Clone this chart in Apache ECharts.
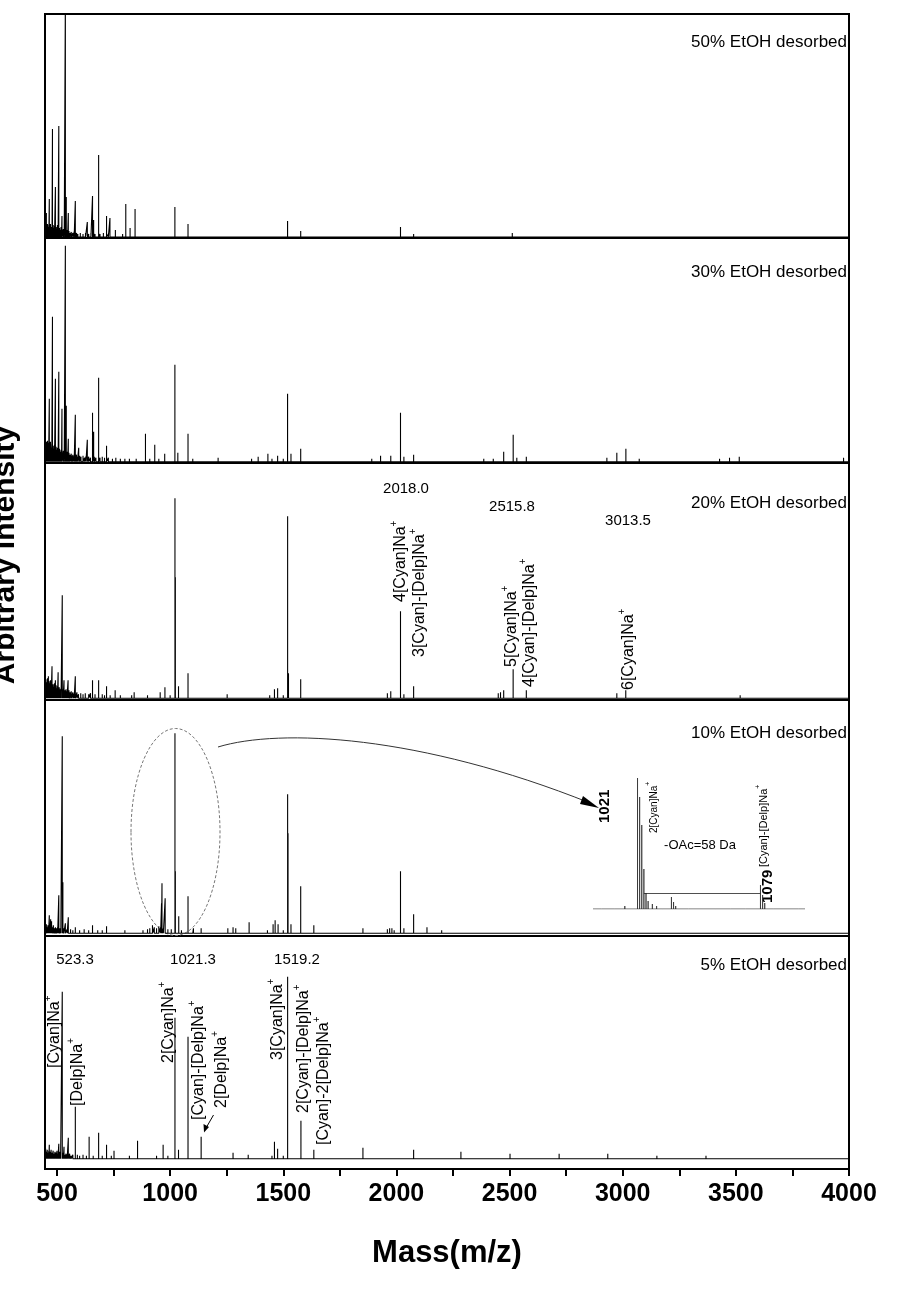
<!DOCTYPE html>
<html><head><meta charset="utf-8">
<script src="https://cdn.jsdelivr.net/npm/echarts@6/dist/echarts.min.js"></script>
<style>html,body{margin:0;padding:0;background:#fff}#c{width:913px;height:1311px}</style>
</head><body><div id="c"></div>
<script>
// ---------------- data ----------------
const xTickValues = [500,750,1000,1250,1500,1750,2000,2250,2500,2750,3000,3250,3500,3750,4000];
const xLabelValues = [500,1000,1500,2000,2500,3000,3500,4000];
const panelNames = ['50% EtOH desorbed','30% EtOH desorbed','20% EtOH desorbed','10% EtOH desorbed','5% EtOH desorbed'];

// [m/z, intensity]
const peaks50 = [[453,24],[466,38],[480,108],[493,50],[508,111],[522,21],[537,240],[541,40],[550,24],[581,36],[634,15],[657,41],[662,17],[684,82],[719,21],[734,19],[758,7],[804,33],[823,9],[845,28],[1021,30],[1079,13],[1519,16],[1577,6],[2018,10],[2076,3],[2512,4],[3013,2]];
const noise50 = [[447,12],[449,9],[451,14],[455,11],[458,13],[461,10],[464,12],[469,9],[471,13],[474,10],[478,8],[483,12],[486,9],[489,11],[496,10],[499,8],[502,12],[505,7],[511,9],[514,7],[518,10],[520,6],[528,8],[532,6],[544,7],[547,5],[553,6],[557,4],[563,5],[570,4],[576,5],[586,4],[592,3],[603,4],[615,3],[626,4],[640,3],[650,4],[668,3],[690,3],[705,4],[727,3],[770,2],[790,3],[830,2],[870,2],[900,2],[940,2],[980,2],[1060,2],[1120,2],[1200,2],[1280,1],[1350,2],[1420,1],[1480,2],[1560,1],[1640,2],[1720,1],[1800,2],[1880,1],[1960,2],[2100,1],[2200,2],[2300,1],[2420,2],[2600,1],[2700,2],[2850,1],[2950,2],[3100,1],[3250,1],[3400,1],[3600,1],[3800,1],[3950,1]];

const peaks30 = [[453,20],[466,63],[480,145],[493,83],[508,90],[522,53],[537,216],[541,56],[550,23],[581,47],[596,14],[634,22],[657,49],[662,30],[684,84],[719,16],[891,28],[932,17],[976,8],[1021,97],[1034,9],[1079,28],[1212,4],[1389,5],[1432,8],[1475,6],[1519,68],[1534,8],[1577,13],[1891,3],[1930,6],[1975,6],[2018,49],[2033,5],[2076,7],[2386,3],[2428,3],[2474,10],[2516,27],[2532,4],[2574,5],[2930,4],[2974,9],[3014,13],[3073,3],[3428,3],[3472,4],[3515,5],[3976,4]];
const noise30 = [[447,22],[449,16],[451,20],[455,18],[458,21],[461,15],[463,19],[469,17],[471,20],[474,14],[477,18],[483,16],[486,13],[489,17],[496,15],[499,12],[502,14],[505,11],[511,13],[514,10],[518,12],[520,9],[528,11],[532,9],[544,10],[547,8],[553,9],[557,7],[563,8],[567,6],[570,7],[576,6],[586,7],[590,5],[600,6],[606,5],[615,6],[622,4],[628,5],[640,5],[648,4],[665,5],[672,4],[690,4],[700,5],[710,4],[727,4],[745,3],[760,4],[780,3],[800,3],[820,3],[850,3],[870,2],[910,3],[950,3],[990,2],[1050,2],[1100,3],[1150,2],[1180,2],[1240,2],[1280,2],[1320,2],[1360,3],[1410,2],[1450,3],[1500,3],[1550,2],[1600,2],[1650,2],[1700,1],[1760,2],[1820,1],[1860,2],[1950,2],[2060,2],[2120,2],[2200,1],[2280,2],[2340,1],[2440,2],[2600,2],[2700,1],[2800,2],[2880,1],[3040,2],[3120,1],[3200,2],[3300,1],[3380,2],[3560,1],[3650,2],[3750,1],[3850,2],[3920,2]];

const peaks20 = [[462,22],[478,32],[493,18],[505,26],[523.3,103],[531,18],[549,18],[581,22],[657,18],[684,18],[719,12],[757,8],[841,6],[956,6],[977,11],[1021.3,200],[1023,121],[1037,12],[1079,25],[1252,4],[1461,9],[1475,10],[1519.2,182],[1523,25],[1577,19],[1960,5],[1975,7],[2018.0,87],[2033,4],[2076,12],[2450,5],[2460,6],[2474,8],[2515.8,29],[2574,8],[2974,5],[3013.5,8],[3519,3]];
const noise20 = [[447,18],[449,14],[451,19],[455,16],[458,20],[461,13],[465,17],[469,15],[471,18],[474,12],[483,14],[486,11],[489,15],[496,13],[499,10],[502,12],[510,11],[514,9],[518,10],[527,9],[535,8],[540,9],[544,7],[553,8],[557,6],[563,7],[570,6],[576,5],[588,6],[595,4],[605,5],[615,4],[625,5],[640,4],[648,5],[668,4],[700,4],[710,3],[735,3],[780,3],[800,2],[830,3],[870,2],[900,3],[930,2],[1000,3],[1060,2],[1120,2],[1180,2],[1300,2],[1350,2],[1400,2],[1440,3],[1500,3],[1600,2],[1700,2],[1800,2],[1900,2],[2000,2],[2150,2],[2250,1],[2350,2],[2420,2],[2650,2],[2800,1],[2900,2],[3100,2],[3250,1],[3400,2],[3600,1],[3700,2],[3850,1],[3950,2]];

const peaks10 = [[466,18],[472,14],[476,12],[508,38],[523.3,197],[526,51],[537,10],[550,16],[581,6],[657,8],[719,7],[922,8],[962,30],[964,50],[978,35],[1021.3,200],[1023,62],[1038,17],[1079,37],[1103,5],[1137,5],[1255,5],[1278,6],[1290,5],[1349,11],[1455,9],[1464,13],[1477,9],[1519.2,139],[1521,100],[1534,9],[1577,47],[1635,8],[1852,5],[1960,4],[1970,5],[1980,5],[2018,62],[2033,5],[2076,19],[2135,6],[2200,3]];
const noise10 = [[447,10],[450,7],[453,9],[457,6],[460,8],[463,5],[469,7],[479,6],[484,8],[488,5],[493,6],[498,5],[503,6],[513,5],[517,4],[530,5],[545,4],[560,4],[570,3],[600,3],[620,4],[640,3],[680,3],[700,3],[750,2],[800,3],[850,2],[880,3],[900,4],[910,5],[930,6],[940,5],[950,7],[958,6],[970,5],[990,4],[1005,4],[1050,3],[1100,2],[1180,2],[1220,2],[1320,2],[1400,2],[1430,3],[1500,3],[1560,2],[1700,2],[1800,2],[1900,2],[1990,3],[2100,2],[2300,2],[2500,2],[2700,2],[2900,1],[3100,2],[3300,1],[3500,2],[3700,1],[3900,2]];

const peaks5 = [[466,14],[508,15],[523.3,167],[531,12],[550,21],[581,52],[642,22],[684,26],[719,14],[752,8],[856,18],[969,14],[1021.3,141],[1037,9],[1079,122],[1137,22],[1278,6],[1345,4],[1461,17],[1475,10],[1519.2,182],[1578,38],[1635,9],[1852,11],[2076,9],[2285,7],[2502,5],[2719,5],[2934,5],[3151,3],[3368,3],[3585,2]];
const noise5 = [[447,8],[450,10],[453,7],[457,9],[460,6],[464,8],[470,7],[474,9],[478,6],[483,8],[487,5],[491,7],[496,6],[500,8],[504,5],[512,7],[516,5],[528,6],[535,4],[540,5],[545,4],[556,5],[562,3],[570,4],[590,4],[600,3],[615,4],[630,3],[660,3],[700,3],[740,3],[780,2],[820,3],[900,2],[940,3],[990,3],[1050,2],[1100,2],[1200,2],[1300,2],[1400,2],[1450,3],[1500,3],[1700,2],[1900,2],[2000,2],[2200,1],[2400,2],[2600,1],[2800,2],[3000,1],[3250,2],[3450,1],[3700,1],[3900,1]];

const insetPeaks = [[1004,2],[1010,2],[1015,3],[1021,131],[1022,112],[1023,84],[1024,40],[1025,16],[1026,8],[1028,5],[1030,3],[1033,2],[1037,12],[1038,7],[1039,3],[1045,2],[1050,2],[1058,2],[1065,2],[1072,2],[1079,24],[1080,14],[1081,6],[1085,2],[1092,2],[1097,2]];

const peakValueLabels = [['2018.0',2],['2515.8',2],['3013.5',2],['523.3',4],['1021.3',4],['1519.2',4]];
const ionLabels = ['[Cyan]Na','[Delp]Na','2[Cyan]Na','[Cyan]-[Delp]Na','2[Delp]Na','3[Cyan]Na','2[Cyan]-[Delp]Na','[Cyan]-2[Delp]Na','4[Cyan]Na','3[Cyan]-[Delp]Na','5[Cyan]Na','4[Cyan]-[Delp]Na','6[Cyan]Na'];

// ---------------- build ----------------
const XMIN = 447, XMAX = 4000;
function stick(peaks, noise, x0, x1) {
  const all = peaks.concat(noise).sort((a, b) => a[0] - b[0]);
  const d = [[x0, 0]];
  all.forEach(p => { d.push([p[0], 0], [p[0], p[1]], [p[0], 0]); });
  d.push([x1, 0]);
  return d;
}
const spectra = [stick(peaks50, noise50, XMIN, XMAX), stick(peaks30, noise30, XMIN, XMAX), stick(peaks20, noise20, XMIN, XMAX), stick(peaks10, noise10, XMIN, XMAX), stick(peaks5, noise5, XMIN, XMAX)];

const gTop = [14, 238, 463, 700, 936];
const gH = [224, 225, 237, 236, 233];
const yMin = [-1, -1.3, -1.7, -2.7, -10.3];
const yMax = [223, 223.7, 235.3, 233.3, 222.7];

const FONT = "'Liberation Sans', Arial, sans-serif";

const grids = [], xAxes = [], yAxes = [], series = [];
for (let i = 0; i < 5; i++) {
  grids.push({left: 45, width: 804, top: gTop[i], height: gH[i], show: true, borderColor: '#000', borderWidth: 2, containLabel: false});
  const last = i === 4;
  xAxes.push({type: 'value', gridIndex: i, min: XMIN, max: XMAX,
    axisLine: {show: false, onZero: false}, splitLine: {show: false},
    axisTick: {show: last, inside: false, length: 7, lineStyle: {color: '#000', width: 2}, customValues: xTickValues},
    axisLabel: {show: last, customValues: xLabelValues, margin: 13, color: '#000', fontSize: 25, fontWeight: 'bold', fontFamily: FONT,
      formatter: v => String(v)},
    name: last ? 'Mass(m/z)' : '', nameLocation: 'middle', nameGap: 69,
    nameTextStyle: {fontSize: 31, fontWeight: 'bold', color: '#000', fontFamily: FONT}
  });
  yAxes.push({type: 'value', gridIndex: i, min: yMin[i], max: yMax[i], show: false});
  series.push({type: 'line', xAxisIndex: i, yAxisIndex: i, data: spectra[i], showSymbol: false, symbol: 'none', animation: false,
    lineStyle: {color: '#000', width: 1.1}, clip: true});
}
// inset
grids.push({left: 593, width: 212, top: 770, height: 139, show: false});
xAxes.push({type: 'value', gridIndex: 5, min: 1000, max: 1100, show: false});
yAxes.push({type: 'value', gridIndex: 5, min: 0, max: 139, show: false});
series.push({type: 'line', xAxisIndex: 5, yAxisIndex: 5, data: stick(insetPeaks, [], 1000, 1100), symbol: 'none', animation: false,
  lineStyle: {color: '#333', width: 0.8},
  markLine: {silent: true, symbol: 'none', animation: false, label: {show: false}, lineStyle: {color: '#222', width: 0.8, type: 'solid'},
    data: [[{coord: [1024, 16]}, {coord: [1079, 16]}]]}});

// ---------------- annotations ----------------
const g = [];
function txt(t, x, y, opts) {
  g.push(Object.assign({type: 'text', x: x, y: y, silent: true, style: Object.assign({text: t, fill: '#000', fontFamily: FONT, fontSize: 16, align: 'center', verticalAlign: 'middle'}, opts && opts.style || {})}, opts && opts.el || {}));
}
function ion(t, x, yBottom, size) {
  const s = size || 16;
  g.push({type: 'text', x: x, y: yBottom, rotation: Math.PI / 2, silent: true,
    style: {text: '{a|' + t + '}{s|+}', align: 'left', verticalAlign: 'middle', fill: '#000',
      rich: {a: {fontSize: s, fontFamily: FONT, fill: '#000', lineHeight: s + 4, verticalAlign: 'bottom'},
             s: {fontSize: Math.round(s * 0.65), fontFamily: FONT, fill: '#000', verticalAlign: 'top', lineHeight: s + 4}}}});
}
const titleY = [42, 272, 503, 733, 965];
panelNames.forEach((n, i) => txt(n, 847, titleY[i], {style: {align: 'right', fontSize: 17}}));

const pvPos = [[406, 489], [512, 507], [628, 521], [75, 960], [193, 960], [297, 960]];
peakValueLabels.forEach((p, i) => txt(p[0], pvPos[i][0], pvPos[i][1], {style: {fontSize: 15}}));

const ionPos = [[53, 1068], [76, 1106], [167, 1063], [197, 1120], [220, 1108], [276, 1060], [302, 1113], [322, 1145], [399, 602], [418, 657], [510, 667], [528, 687], [627, 690]];
ionLabels.forEach((t, i) => ion(t, ionPos[i][0], ionPos[i][1], 16));

// inset labels
g.push({type: 'text', x: 605, y: 823, rotation: Math.PI / 2, silent: true, style: {text: '1021', fontFamily: FONT, fontWeight: 'bold', fontSize: 15, fill: '#000', align: 'left', verticalAlign: 'middle'}});
g.push({type: 'text', x: 768, y: 903, rotation: Math.PI / 2, silent: true, style: {text: '1079', fontFamily: FONT, fontWeight: 'bold', fontSize: 15, fill: '#000', align: 'left', verticalAlign: 'middle'}});
ion('2[Cyan]Na', 652, 833, 10);
ion('[Cyan]-[Delp]Na', 762, 867, 11);
txt('-OAc=58 Da', 700, 845, {style: {fontSize: 13}});

// y axis title
g.push({type: 'text', x: 6, y: 555, rotation: Math.PI / 2, silent: true, style: {text: 'Arbitrary Intensity', fontFamily: FONT, fontWeight: 'bold', fontSize: 30, fill: '#000', align: 'center', verticalAlign: 'middle'}});

// ellipse & arrows
g.push({type: 'ellipse', silent: true, shape: {cx: 175.5, cy: 832, rx: 44.5, ry: 103.5}, style: {fill: null, stroke: '#777', lineWidth: 1, lineDash: [3, 2]}});
g.push({type: 'bezierCurve', silent: true, shape: {x1: 218, y1: 747, cpx1: 280, cpy1: 728, cpx2: 420, cpy2: 735, x2: 590, y2: 803}, style: {fill: null, stroke: '#333', lineWidth: 1}});
g.push({type: 'polygon', silent: true, shape: {points: [[599, 808], [583, 796], [580, 804]]}, style: {fill: '#000'}});
g.push({type: 'line', silent: true, shape: {x1: 213.5, y1: 1115, x2: 206, y2: 1128}, style: {stroke: '#000', lineWidth: 1}});
g.push({type: 'polygon', silent: true, shape: {points: [[204, 1132.5], [203.5, 1124], [209, 1127]]}, style: {fill: '#000'}});

const chart = echarts.init(document.getElementById('c'), null, {renderer: 'canvas'});
chart.setOption({animation: false, backgroundColor: '#fff', grid: grids, xAxis: xAxes, yAxis: yAxes, series: series, graphic: g});
</script></body></html>
